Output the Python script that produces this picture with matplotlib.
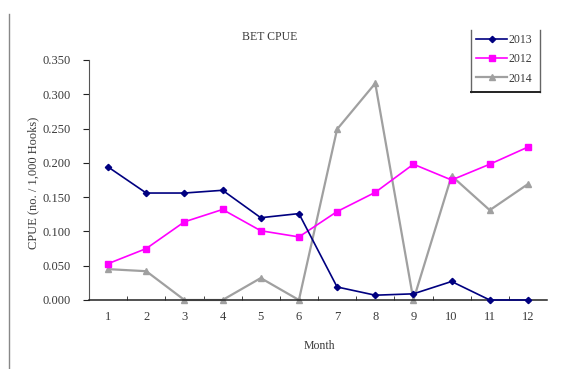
import matplotlib
matplotlib.use("Agg")
import matplotlib.pyplot as plt
from matplotlib.lines import Line2D

months = [1, 2, 3, 4, 5, 6, 7, 8, 9, 10, 11, 12]
cpue_2013 = [0.194, 0.156, 0.156, 0.160, 0.120, 0.126, 0.019, 0.007, 0.009, 0.027, 0.000, 0.000]
cpue_2012 = [0.053, 0.075, 0.114, 0.132, 0.101, 0.092, 0.129, 0.157, 0.198, 0.175, 0.198, 0.223]
cpue_2014 = [0.045, 0.042, 0.000, 0.000, 0.032, 0.000, 0.249, 0.316, 0.000, 0.181, 0.131, 0.169]
y_ticks = [0.0, 0.05, 0.10, 0.15, 0.20, 0.25, 0.30, 0.35]

plt.rcParams['font.family'] = ['Liberation Serif', 'DejaVu Serif']
W, H = 568, 369
fig = plt.figure(figsize=(W / 100, H / 100), dpi=100)

# axes box in pixel units
x0, x1, y0, y1 = 89, 547, 60, 300
ax = fig.add_axes([x0 / W, 1 - y1 / H, (x1 - x0) / W, (y1 - y0) / H])

txt = '#3a3a3a'
ax.plot(months, cpue_2013, color='#000080', lw=1.2, marker='D', ms=3.2, label='2013', clip_on=False, zorder=4)
ax.plot(months, cpue_2012, color='#FF00FF', lw=1.2, marker='s', ms=4.6, label='2012', clip_on=False, zorder=3)
ax.plot(months, cpue_2014, color='#A0A0A0', lw=1.6, marker='^', ms=4.5, label='2014', clip_on=False, zorder=2)

ax.set_xlim(0.5, 12.5)
ax.set_ylim(0, 0.35)
ax.set_yticks(y_ticks)
ax.set_yticklabels([f'{v:.3f}' for v in y_ticks])
ax.set_xticks(months)
ax.set_xticks([m + 0.5 for m in months[:-1]], minor=True)
ax.tick_params(axis='x', which='major', length=0, pad=8, labelsize=9, labelcolor=txt)
ax.tick_params(axis='x', which='minor', direction='in', length=3, color='#222222')
ax.tick_params(axis='y', which='major', direction='out', length=4, pad=9, labelsize=9,
               labelcolor=txt, color='#222222')
for s in ('top', 'right'):
    ax.spines[s].set_visible(False)
ax.spines['left'].set_color('#555555')
ax.spines['bottom'].set_color('#222222')
ax.spines['bottom'].set_linewidth(1.1)

fig.text(270 / W, 1 - 37 / H, 'BET CPUE', ha='center', va='center', fontsize=8.5, color=txt)
fig.text(319 / W, 1 - 346 / H, 'Month', ha='center', va='center', fontsize=8.5, color=txt)
fig.text(33 / W, 1 - 183 / H, 'CPUE (no. / 1,000 Hooks)', ha='center', va='center',
         rotation=90, fontsize=9, color=txt)

# legend without a top edge
leg = ax.legend(loc='upper left', bbox_to_anchor=((474 - x0) / (x1 - x0), 1 + (y0 - 32) / (y1 - y0)),
                frameon=False, fontsize=8.5, handlelength=2.6, handletextpad=0.15,
                labelspacing=0.6, borderaxespad=0, borderpad=0.2)
for t in leg.get_texts():
    t.set_color(txt)
for xa, xb, ya, yb, c, lw in [(471, 471, 30, 92, '#666666', 1.0),
                               (540, 540, 30, 92, '#666666', 1.0),
                               (471, 540, 92, 92, '#222222', 1.4)]:
    fig.add_artist(Line2D([xa / W, xb / W], [1 - ya / H, 1 - yb / H], color=c, lw=lw))

# left border line
fig.add_artist(Line2D([8.5 / W, 8.5 / W], [1 - 14 / H, 0], color='#888888', lw=1.0))

fig.savefig('out.png', dpi=100)
